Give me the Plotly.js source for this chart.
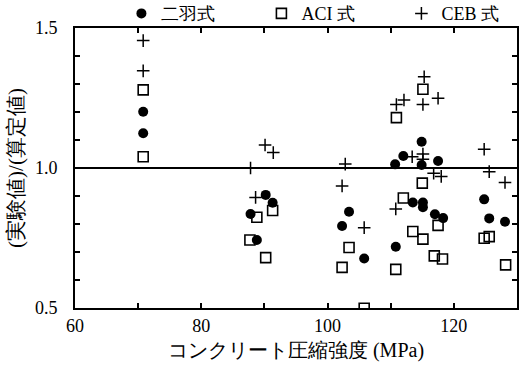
<!DOCTYPE html>
<html>
<head>
<meta charset="utf-8">
<script src="https://cdn.plot.ly/plotly-3.0.1.min.js"></script>
<style>
  html, body { margin: 0; padding: 0; background: #fff; }
  #chart { width: 520px; height: 374px; }
</style>
</head>
<body>
<div id="chart"></div>
<script>
// Concrete compressive strength (MPa) vs. ratio of test value to calculated value
const niwaX = [70.8, 70.8, 87.8, 88.8, 90.2, 91.3, 102.3, 103.4, 105.8,
  110.8, 110.7, 112.0, 113.5, 114.9, 114.9, 115.1, 115.1, 117.5, 117.0, 118.3,
  124.8, 125.6, 128.1];
const niwaY = [1.201, 1.124, 0.836, 0.743, 0.904, 0.876, 0.793, 0.844, 0.677,
  0.719, 1.013, 1.043, 0.877, 1.094, 1.011, 0.877, 0.860, 1.025, 0.835, 0.821,
  0.888, 0.820, 0.808];

const aciX = [70.8, 70.8, 87.7, 88.8, 90.2, 91.3, 102.3, 103.4, 105.8,
  110.8, 110.9, 112.0, 113.5, 115.1, 115.0, 115.1, 116.9, 117.5, 118.2,
  124.8, 125.6, 128.2];
const aciY = [1.279, 1.040, 0.743, 0.824, 0.680, 0.848, 0.645, 0.716, 0.499,
  0.638, 1.180, 0.893, 0.773, 1.281, 0.946, 0.746, 0.686, 0.795, 0.675,
  0.749, 0.755, 0.654];

const cebX = [70.8, 70.8, 87.8, 88.6, 90.1, 91.4, 102.3, 102.8, 105.8,
  110.8, 110.9, 112.1, 113.4, 115.1, 115.3, 115.1, 115.1, 116.8, 117.5, 118.0,
  124.8, 125.6, 128.1];
const cebY = [1.455, 1.347, 1.000, 0.895, 1.082, 1.055, 0.936, 1.014, 0.787,
  0.854, 1.227, 1.243, 1.040, 1.227, 1.326, 1.050, 1.031, 0.981, 1.249, 0.970,
  1.067, 0.987, 0.948];

// Latin runs are wrapped so they keep the serif face next to Japanese glyphs
const L = s => '<span style="font-family:Liberation Serif">' + s + '</span>';
const seriesNames = ['二羽式', L('ACI') + ' 式', L('CEB') + ' 式'];
const xTitle = 'コンクリート圧縮強度 ' + L('(MPa)');
const yTitle = '(実験値)/(算定値)';

const xTickVals = [60, 70, 80, 90, 100, 110, 120, 130];
const xTickText = ['60', '', '80', '', '100', '', '120', ''];
const yTickVals = [0.5, 0.6, 0.7, 0.8, 0.9, 1.0, 1.1, 1.2, 1.3, 1.4, 1.5];
const yTickText = ['0.5', '', '', '', '', '1.0', '', '', '', '', '1.5'];

const serif = 'Liberation Serif';

const traces = [
  {
    x: niwaX, y: niwaY, name: seriesNames[0], type: 'scatter', mode: 'markers',
    marker: { symbol: 'circle', size: 10, color: '#000' }
  },
  {
    x: aciX, y: aciY, name: seriesNames[1], type: 'scatter', mode: 'markers',
    marker: { symbol: 'square-open', size: 10, color: '#000', line: { width: 1.6, color: '#000' } }
  },
  {
    x: cebX, y: cebY, name: seriesNames[2], type: 'scatter', mode: 'markers',
    marker: { symbol: 'cross-thin-open', size: 9, color: '#000', line: { width: 1.5, color: '#000' } }
  }
];

const axisCommon = {
  showgrid: false, zeroline: false,
  showline: true, linecolor: '#000', linewidth: 2, mirror: 'ticks',
  ticks: 'inside', ticklen: 5, tickwidth: 2, tickcolor: '#000',
  tickfont: { family: serif, size: 18, color: '#000' }
};

const layout = {
  width: 520, height: 374,
  margin: { l: 75, r: 3, t: 28, b: 66, autoexpand: false },
  paper_bgcolor: '#fff', plot_bgcolor: '#fff',
  showlegend: true,
  legend: {
    orientation: 'h', x: 0.105, y: 0.985, xanchor: 'left', yanchor: 'bottom',
    font: { family: serif, size: 18, color: '#000' },
    itemwidth: 30, tracegroupgap: 0, bgcolor: 'rgba(0,0,0,0)',
    entrywidth: 95, entrywidthmode: 'pixels'
  },
  xaxis: Object.assign({}, axisCommon, {
    range: [60, 130], tickmode: 'array', tickvals: xTickVals, ticktext: xTickText,
    ticklabelstandoff: 0,
    title: { text: xTitle, font: { family: serif, size: 20, color: '#000' }, standoff: 8 }
  }),
  yaxis: Object.assign({}, axisCommon, {
    range: [0.5, 1.5], tickmode: 'array', tickvals: yTickVals, ticktext: yTickText,
    ticklabelstandoff: 12,
    title: { text: yTitle, font: { family: serif, size: 21, color: '#000' }, standoff: 6 }
  }),
  shapes: [
    { type: 'line', xref: 'paper', x0: 0, x1: 1, yref: 'y', y0: 1.0, y1: 1.0,
      line: { color: '#000', width: 2 } }
  ]
};

Plotly.newPlot('chart', traces, layout, { displayModeBar: false, staticPlot: true });
</script>
</body>
</html>
